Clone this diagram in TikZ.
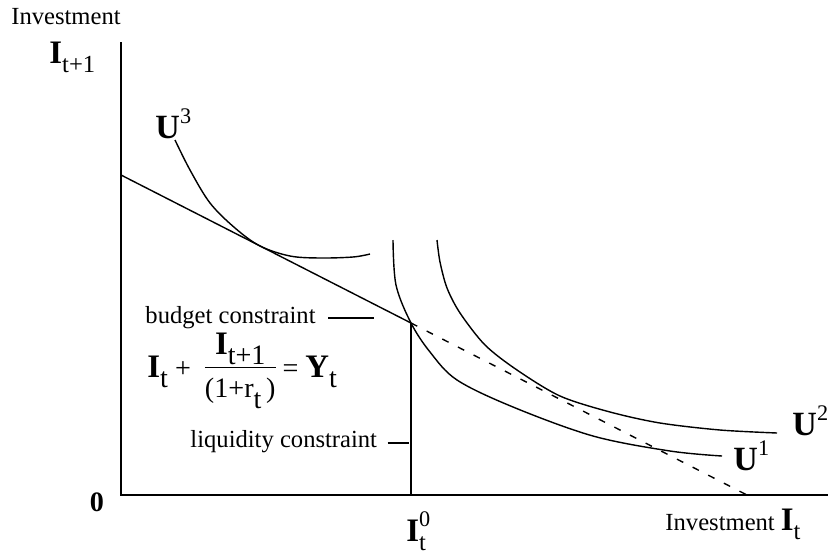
\documentclass[tikz,border=0pt]{standalone}
\usepackage{fontspec}
\setmainfont{Liberation Serif}
\usetikzlibrary{calc,positioning}

\newcommand{\bigI}{{\fontsize{14}{16}\selectfont\textbf{I}}}
\newcommand{\bigU}{{\fontsize{14.5}{16}\selectfont\textbf{U}}}
\newcommand{\bigY}{{\fontsize{14}{16}\selectfont\textbf{Y}}}
\newcommand{\lowsub}[1]{\raisebox{-0.8ex}{#1}}
\newcommand{\highsup}[1]{\raisebox{1.25ex}{\fontsize{9.5}{11}\selectfont #1}}

\begin{document}
\begin{tikzpicture}[x=0.015cm, y=-0.015cm,
    txt/.style={font=\fontsize{10.5}{12}\selectfont, inner sep=0pt},
    axis/.style={line width=0.8pt},
    curve/.style={line width=0.6pt, line join=round},
    budget/.style={line width=0.6pt},
    pointer/.style={line width=0.6pt}]
    \useasboundingbox (0,0) rectangle (829,554);

    % Axes
    \coordinate (ytop) at (121,42);
    \coordinate (O)    at (121,495);
    \coordinate (xend) at (828,495);
    \draw[axis] (ytop) -- (O) -- (xend);

    % Axis labels
    \node[txt] (ylab) at (66,17) {Investment};
    \node[txt, anchor=base west] (yaxlab) at (49,63) {\bigI\lowsub{t+1}};
    \node[txt, font=\fontsize{12}{14}\selectfont\bfseries] (orig) at (97,502) {0};
    \node[txt, anchor=base west] (xlab) at (665,530) {Investment \bigI\lowsub{t}};
    \node[txt, anchor=base west] (it0) at (406,541)
      {\bigI\makebox[0pt][l]{\raisebox{1.25ex}{\fontsize{9.5}{11}\selectfont 0}}\lowsub{t}};

    % Budget line: solid up to the kink, dashed beyond it
    \coordinate (B0) at (121,175);
    \coordinate (K)  at (411,323);
    \coordinate (B1) at (747,495);
    \draw[budget] (B0) -- (K);
    \draw[budget, dash pattern=on 3pt off 4.5pt] (K) -- (B1);

    % Liquidity constraint
    \coordinate (L0) at (411,495);
    \draw[budget] (K) -- (L0);

    % Indifference curves
    \draw[curve] plot[smooth, tension=0.55] coordinates
      {(175,140) (190,170) (210,203) (235,228) (260,246) (290,256)
       (320,258) (353,257) (370,254)};
    \draw[curve] plot[smooth, tension=0.55] coordinates
      {(393,240) (396,285) (411,323) (430,352) (457,380) (513,407)
       (593,436) (670,451) (722,456)};
    \draw[curve] plot[smooth, tension=0.5] coordinates
      {(437,240) (440,262) (447,288) (460,313) (485,345) (517,370)
       (560,396) (610,412) (660,423) (720,430) (777,433)};

    \node[txt, anchor=base west] (u3lab) at (155,138) {\bigU\highsup{3}};
    \node[txt, anchor=base west] (u1lab) at (733,470) {\bigU\highsup{1}};
    \node[txt, anchor=base west] (u2lab) at (792,435) {\bigU\highsup{2}};

    % Constraint labels
    \node[txt, anchor=base west] (bclab) at (145,323) {budget constraint};
    \draw[pointer] ($(bclab.base east)+(12,-5)$) -- ++(46,0);
    \node[txt, anchor=base west] (lclab) at (190,447) {liquidity constraint};
    \draw[pointer] ($(lclab.base east)+(10,-4)$) -- ++(21,0);

    % Budget equation
    \node[txt, font=\fontsize{12}{14}\selectfont, anchor=base west] (eq) at (147,377)
      {\bigI\lowsub{t} + \ \begin{tabular}{@{}c@{}}\bigI\lowsub{t+1}\\[1pt]\hline
       \rule{0pt}{13pt}(1+r\lowsub{t}\,)\end{tabular} = \bigY\lowsub{t}};
\end{tikzpicture}
\end{document}
